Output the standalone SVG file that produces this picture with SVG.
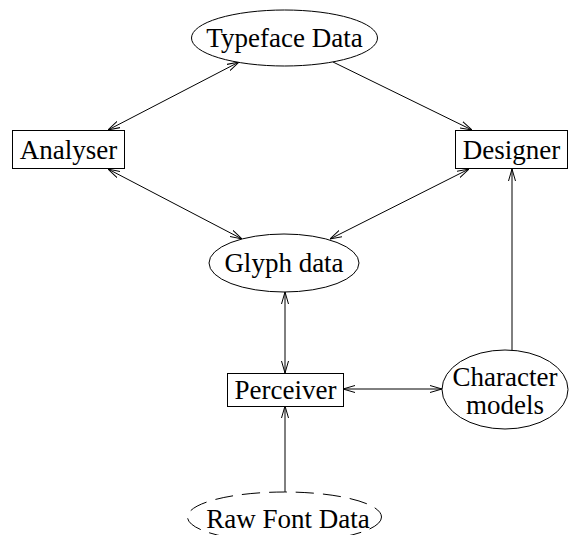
<svg xmlns="http://www.w3.org/2000/svg" width="571" height="535" viewBox="0 0 571 535">
<style>
.n{fill:#fff;stroke:#000;stroke-width:1}
.t{font-family:"Liberation Serif","Times New Roman",serif;font-size:27px;fill:#000;text-anchor:middle}
.c{stroke:#000;stroke-width:1;fill:none}
</style>
<defs>
<marker id="a" viewBox="0 0 12 8" refX="12" refY="4" markerWidth="12" markerHeight="8" markerUnits="userSpaceOnUse" orient="auto-start-reverse">
<path d="M0,0.5 L12,4 L0,7.5" fill="none" stroke="#000" stroke-width="1"/>
</marker>
</defs>
<rect width="571" height="535" fill="#fff"/>
<g id="connectors">
<line class="c" x1="239" y1="62" x2="108" y2="130" marker-start="url(#a)" marker-end="url(#a)"/>
<line class="c" x1="333" y1="62" x2="472" y2="130" marker-end="url(#a)"/>
<line class="c" x1="108" y1="169" x2="242" y2="239" marker-start="url(#a)" marker-end="url(#a)"/>
<line class="c" x1="469" y1="169" x2="330" y2="239" marker-start="url(#a)" marker-end="url(#a)"/>
<line class="c" x1="285" y1="292" x2="285" y2="373" marker-start="url(#a)" marker-end="url(#a)"/>
<line class="c" x1="343" y1="389" x2="442" y2="389" marker-start="url(#a)" marker-end="url(#a)"/>
<line class="c" x1="512" y1="351" x2="512" y2="169" marker-end="url(#a)"/>
<line class="c" x1="285" y1="492" x2="285" y2="406" marker-end="url(#a)"/>
</g>
<g id="typeface-data">
<ellipse class="n" cx="284.5" cy="38" rx="93" ry="28"/>
<text class="t" x="284.5" y="47">Typeface Data</text>
</g>
<g id="analyser">
<rect class="n" x="12.5" y="130.5" width="112" height="38"/>
<text class="t" x="68.5" y="159">Analyser</text>
</g>
<g id="designer">
<rect class="n" x="455.5" y="130.5" width="112" height="38"/>
<text class="t" x="511.5" y="159">Designer</text>
</g>
<g id="glyph-data">
<ellipse class="n" cx="284" cy="263" rx="75" ry="29"/>
<text class="t" x="284" y="272">Glyph data</text>
</g>
<g id="perceiver">
<rect class="n" x="227.5" y="373.5" width="116" height="33"/>
<text class="t" x="285.5" y="399">Perceiver</text>
</g>
<g id="character-models">
<ellipse class="n" cx="505" cy="389.5" rx="63" ry="39.5"/>
<text class="t" x="505" y="386">Character</text>
<text class="t" x="505" y="414">models</text>
</g>
<g id="raw-font-data">
<ellipse class="n" cx="284.5" cy="517" rx="97" ry="25" stroke-dasharray="18 9"/>
<text class="t" x="288" y="528">Raw Font Data</text>
</g>
</svg>
